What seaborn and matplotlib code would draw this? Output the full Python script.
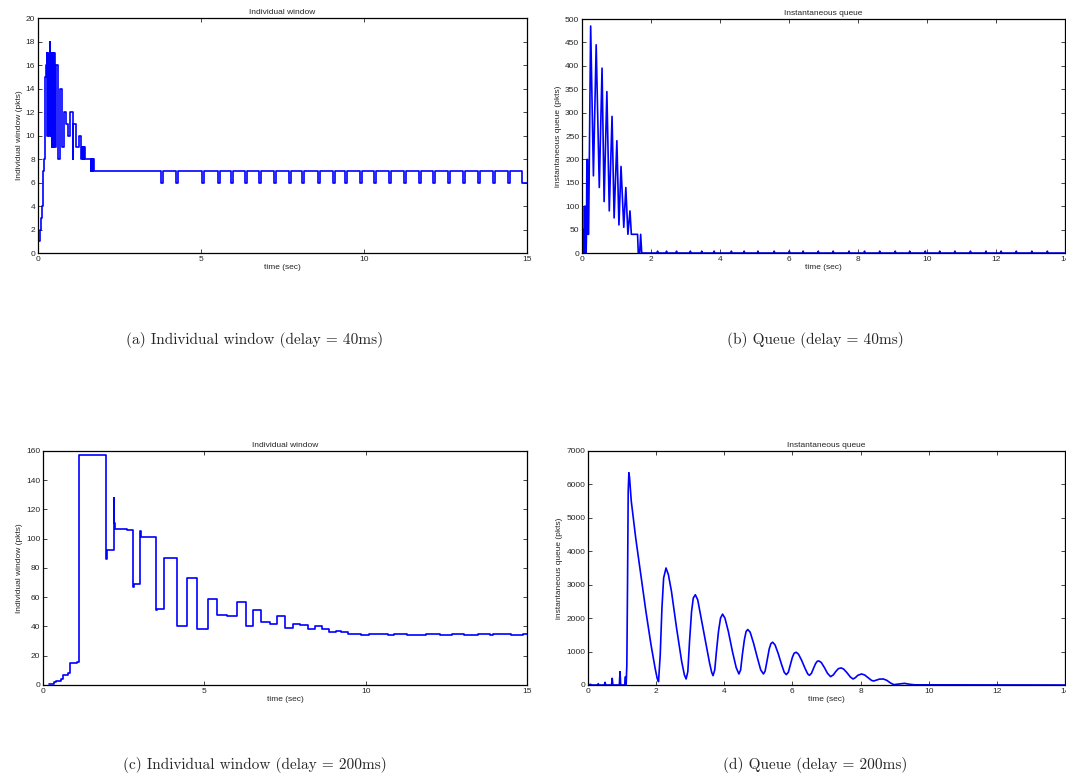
import matplotlib
matplotlib.use("Agg")
import pandas as pd
import matplotlib.pyplot as plt
import seaborn as sns

# (a) individual window, delay = 40ms : step changes (time sec, window pkts)
win40_t = [0.03, 0.06, 0.10, 0.13, 0.14, 0.19, 0.21, 0.25, 0.28,
           0.29, 0.30, 0.31, 0.32, 0.33, 0.34, 0.35,
           0.36, 0.38, 0.40, 0.41, 0.43, 0.44, 0.46, 0.47, 0.49, 0.50, 0.52,
           0.54, 0.61, 0.67, 0.74, 0.80, 0.87, 0.93, 0.99, 1.06, 1.09, 1.17,
           1.27, 1.33, 1.35, 1.37, 1.38, 1.40, 1.41, 1.43,
           1.62, 1.63, 1.65, 1.66, 1.68, 1.69, 1.71]
win40_w = [1, 2, 3, 4, 7, 8, 15, 16, 17,
           10, 17, 10, 17, 10, 17, 10,
           18, 17, 10, 17, 9, 17, 9, 17, 9, 17, 9,
           16, 8, 14, 9, 12, 11, 10, 12, 8, 11, 9,
           10, 8, 9, 8, 9, 8, 9, 8,
           7, 8, 7, 8, 7, 8, 7]
win40_dips = [3.77, 4.22, 5.03, 5.51, 5.91, 6.35, 6.79, 7.23, 7.70, 8.10,
              8.58, 9.04, 9.41, 9.87, 10.31, 10.76, 11.23, 11.68, 12.11,
              12.59, 13.05, 13.49, 13.95, 14.41]
win40_last_drop = 14.84

# (b) instantaneous queue, delay = 40ms (time sec, queue pkts)
q40_t = [0.00, 0.01, 0.02, 0.03, 0.04, 0.05, 0.06, 0.07, 0.08, 0.09, 0.10,
         0.11, 0.12, 0.13, 0.14, 0.16, 0.17, 0.19,
         0.25, 0.33, 0.41, 0.50, 0.58, 0.64, 0.72, 0.79, 0.87, 0.93, 1.01,
         1.07, 1.13, 1.21, 1.27, 1.33, 1.39, 1.43, 1.61, 1.63, 1.67, 1.70, 1.73]
q40_q = [0, 50, 0, 50, 0, 50, 0, 100, 0, 50, 0,
         100, 0, 50, 200, 200, 40, 40,
         485, 165, 445, 140, 395, 110, 345, 90, 292, 75, 240,
         60, 185, 55, 140, 40, 90, 40, 40, 0, 0, 40, 0]
q40_blips = [2.19, 2.45, 2.74, 3.14, 3.47, 3.83, 4.33, 4.70, 5.10, 5.57,
             6.01, 6.41, 6.85, 7.28, 7.74, 8.19, 8.63, 9.08, 9.50, 9.95,
             10.37, 10.81, 11.26, 11.71, 12.15, 12.59, 13.04, 13.49]
q40_blip_height = 4

# (c) individual window, delay = 200ms : step changes
win200_t = [0.19, 0.25, 0.33, 0.41, 0.55, 0.62, 0.78, 0.85, 1.05, 1.11,
            1.96, 1.98, 2.20, 2.21, 2.22, 2.60, 2.79, 2.81, 3.00, 3.03,
            3.51, 3.53, 3.76, 4.16, 4.46, 4.78, 5.10, 5.39, 5.70, 6.00,
            6.28, 6.52, 6.77, 7.03, 7.26, 7.51, 7.74, 7.98, 8.20, 8.42,
            8.65, 8.87, 9.08, 9.24, 9.45, 9.86, 10.10, 10.69, 10.88, 11.27,
            11.86, 12.29, 12.67, 13.04, 13.47, 13.84, 13.95, 14.49, 14.88, 15.0]
win200_w = [0.5, 1, 2, 3, 4, 7, 8, 15, 16, 157,
            86, 92, 128, 111, 107, 106, 67, 69, 105, 101,
            51, 52, 87, 40, 73, 38, 59, 48, 47, 57,
            40, 51, 43, 42, 47, 39, 42, 41, 38, 40,
            38, 36, 37, 36, 35, 34, 35, 34, 35, 34,
            35, 34, 35, 34, 35, 34, 35, 34, 35, 35]

# (d) instantaneous queue, delay = 200ms
q200_t = [0.00, 0.08, 0.10, 0.12, 0.28, 0.30, 0.32, 0.48, 0.50, 0.52,
          0.69, 0.71, 0.73, 0.92, 0.94, 0.96, 1.08, 1.10, 1.11, 1.12,
          1.14, 1.16, 1.18, 1.20, 1.22, 1.27, 1.40, 1.55, 1.70, 1.85, 1.97, 2.03, 2.07,
          2.12, 2.17, 2.22, 2.29, 2.36, 2.45, 2.60, 2.75, 2.83, 2.88,
          2.93, 2.98, 3.04, 3.09, 3.15, 3.22, 3.32, 3.45, 3.57, 3.63, 3.67,
          3.72, 3.77, 3.83, 3.89, 3.95, 4.02, 4.12, 4.24, 4.35, 4.43,
          4.48, 4.53, 4.59, 4.64, 4.69, 4.76, 4.86, 4.97, 5.07, 5.15,
          5.20, 5.26, 5.32, 5.37, 5.42, 5.49, 5.58, 5.68, 5.76, 5.82,
          5.88, 5.94, 6.00, 6.05, 6.11, 6.18, 6.27, 6.37, 6.45, 6.50,
          6.56, 6.62, 6.68, 6.73, 6.78, 6.85, 6.94, 7.03, 7.12,
          7.20, 7.27, 7.35, 7.43, 7.50, 7.60, 7.70, 7.78,
          7.85, 7.92, 8.03, 8.12, 8.23, 8.32, 8.38,
          8.45, 8.55, 8.67, 8.77, 8.88, 8.98,
          9.10, 9.29, 9.45, 9.60, 14.0]
q200_q = [0, 20, 0, 0, 0, 40, 0, 0, 80, 0,
          0, 200, 0, 0, 400, 0, 0, 250, 0, 0,
          600, 3000, 5800, 6350, 6200, 5500, 4400, 3300, 2200, 1200, 500, 200, 100,
          900, 2300, 3200, 3500, 3300, 2800, 1700, 700, 300, 180,
          400, 1300, 2200, 2600, 2700, 2550, 2000, 1300, 650, 380, 280,
          450, 1000, 1600, 2000, 2120, 2000, 1600, 1000, 520, 330,
          450, 900, 1350, 1600, 1660, 1580, 1250, 820, 450, 330,
          420, 750, 1080, 1240, 1280, 1200, 950, 620, 380, 310,
          380, 600, 830, 950, 980, 920, 740, 500, 330, 290,
          350, 500, 640, 710, 720, 670, 520, 350, 250,
          300, 400, 490, 510, 480, 370, 240, 180,
          220, 290, 330, 300, 210, 140, 120,
          140, 175, 180, 140, 60, 10,
          25, 50, 20, 5, 0]

# build the plotted series
a_t, a_w = list(win40_t), list(win40_w)
for d in win40_dips:
    a_t += [d, d + 0.06]
    a_w += [6, 7]
a_t += [win40_last_drop, 15.0]
a_w += [6, 6]
df_a = pd.DataFrame({"t": a_t, "v": a_w})

b_t, b_q = list(q40_t), list(q40_q)
for d in q40_blips:
    b_t += [d - 0.02, d, d + 0.02]
    b_q += [0, q40_blip_height, 0]
b_t.append(14.0)
b_q.append(0)
df_b = pd.DataFrame({"t": b_t, "v": b_q})

df_c = pd.DataFrame({"t": win200_t, "v": win200_w})
df_d = pd.DataFrame({"t": q200_t, "v": q200_q})

sns.set_style("ticks")
plt.rcParams["font.family"] = ["Liberation Sans", "DejaVu Sans"]
plt.rcParams["xtick.direction"] = "in"
plt.rcParams["ytick.direction"] = "in"

fig = plt.figure(figsize=(10.66, 7.80), dpi=100)

panels = [
    (df_a, [0.0356, 0.6756, 0.4588, 0.3013], "Individual window", "Individual window (pkts)",
     (0, 15), [0, 5, 10, 15], (0, 20), list(range(0, 21, 2)), "steps-post"),
    (df_b, [0.5460, 0.6756, 0.4530, 0.3000], "Instantaneous queue", "instantaneous queue (pkts)",
     (0, 14), list(range(0, 15, 2)), (0, 500), list(range(0, 501, 50)), "default"),
    (df_c, [0.0403, 0.1218, 0.4541, 0.3000], "Individual window", "Individual window (pkts)",
     (0, 15), [0, 5, 10, 15], (0, 160), list(range(0, 161, 20)), "steps-post"),
    (df_d, [0.5516, 0.1218, 0.4474, 0.3000], "Instantaneous queue", "instantaneous queue (pkts)",
     (0, 14), list(range(0, 15, 2)), (0, 7000), list(range(0, 7001, 1000)), "default"),
]

for df, pos, title, ylab, xl, xt, yl, yt, ds in panels:
    ax = fig.add_axes(pos)
    sns.lineplot(data=df, x="t", y="v", ax=ax, color="#0000ff", linewidth=1.2,
                 estimator=None, sort=False, drawstyle=ds)
    ax.set_xlim(*xl)
    ax.set_ylim(*yl)
    ax.set_xticks(xt)
    ax.set_yticks(yt)
    ax.tick_params(labelsize=6, length=3, width=0.6, top=True, right=True, pad=2)
    for s in ax.spines.values():
        s.set_linewidth(0.9)
        s.set_color("black")
    ax.set_title(title, fontsize=6, pad=3)
    ax.set_xlabel("time (sec)", fontsize=6, labelpad=1)
    ax.set_ylabel(ylab, fontsize=6, labelpad=2,
                  family=["Liberation Sans Narrow", "Liberation Sans", "DejaVu Sans"])

captions = [
    (0.239, 0.564, "(a) Individual window (delay = 40ms)"),
    (0.765, 0.564, "(b) Queue (delay = 40ms)"),
    (0.239, 0.019, "(c) Individual window (delay = 200ms)"),
    (0.765, 0.019, "(d) Queue (delay = 200ms)"),
]
for x, y, txt in captions:
    fig.text(x, y, txt, ha="center", va="center", fontsize=11,
             family=["cmr10", "DejaVu Serif"])

fig.savefig("out.png", dpi=100)
